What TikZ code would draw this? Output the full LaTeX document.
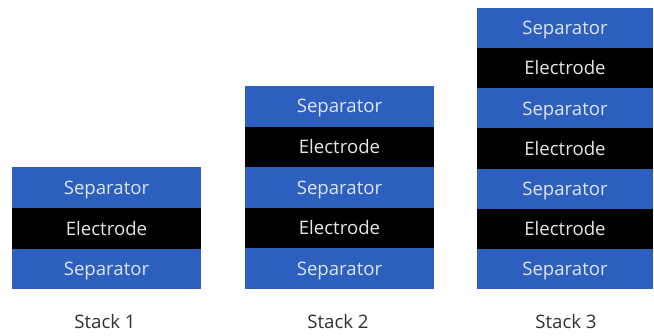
\documentclass[tikz,border=0pt]{standalone}
\usepackage{fontspec}
\setmainfont{Open Sans}
\definecolor{sepblue}{HTML}{2D5FBE}
\definecolor{septext}{HTML}{DCE6F8}
\definecolor{eltext}{HTML}{E6E6E6}
\definecolor{captext}{HTML}{303030}
\begin{document}
\begin{tikzpicture}[x=1pt,y=-1pt,
  txt/.style={font=\fontsize{18.6}{20}\selectfont, text height=13.3pt, text depth=0pt},
  layer/.style={txt, minimum width=189pt, minimum height=40.6pt, inner sep=0pt, outer sep=0pt,
    anchor=north west},
  sep/.style={layer, fill=sepblue, text=septext},
  elec/.style={layer, fill=black, text=eltext},
  caption/.style={txt, inner sep=0pt, text=captext}]
\useasboundingbox (0,0) rectangle (654,336);
% Stack 1
\node[sep]  (a1) at (12,167.5) {Separator};
\node[elec] (a2) at (a1.south west) {Electrode};
\node[sep]  (a3) at (a2.south west) {Separator};
\node[caption] (c1) at (105,322) {Stack 1};
% Stack 2
\node[sep]  (b1) at (245,86) {Separator};
\node[elec] (b2) at (b1.south west) {Electrode};
\node[sep]  (b3) at (b2.south west) {Separator};
\node[elec] (b4) at (b3.south west) {Electrode};
\node[sep]  (b5) at (b4.south west) {Separator};
\node[caption] (c2) at (338,322) {Stack 2};
% Stack 3
\begin{scope}[layer/.append style={minimum height=40.15pt, minimum width=176pt}]
\node[sep]  (d1) at (477,8) {Separator};
\node[elec] (d2) at (d1.south west) {Electrode};
\node[sep]  (d3) at (d2.south west) {Separator};
\node[elec] (d4) at (d3.south west) {Electrode};
\node[sep]  (d5) at (d4.south west) {Separator};
\node[elec] (d6) at (d5.south west) {Electrode};
\node[sep]  (d7) at (d6.south west) {Separator};
\end{scope}
\node[caption] (c3) at (566,322) {Stack 3};
\end{tikzpicture}
\end{document}
